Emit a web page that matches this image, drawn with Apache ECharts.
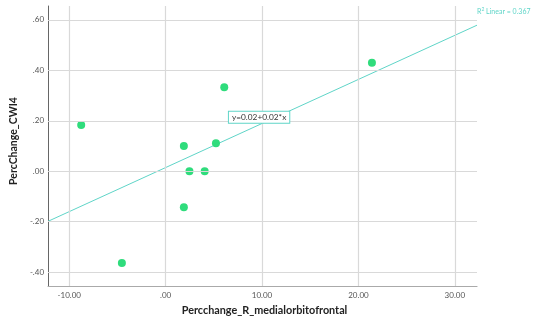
<!DOCTYPE html>
<html>
<head>
<meta charset="utf-8">
<script src="https://cdn.jsdelivr.net/npm/echarts@6/dist/echarts.min.js"></script>
<style>
  html, body { margin: 0; padding: 0; background: #fff; }
  #chart { width: 538px; height: 321px; }
</style>
</head>
<body>
<div id="chart"></div>
<script>
// Observations: percent change in R medial orbitofrontal vs percent change in CWI4
const percchangeR = [-8.76, 1.89, 5.22, 6.08, 21.4, 2.47, 4.05, 1.89, -4.54];
const percChangeCWI4 = [0.183, 0.100, 0.111, 0.333, 0.430, 0.000, 0.000, -0.143, -0.364];

// Axis ranges and tick positions
const xRange = [-12.2, 32.3];
const yRange = [-0.455, 0.655];
const xTicks = [-10, 0, 10, 20, 30];
const yTicks = [-0.4, -0.2, 0, 0.2, 0.4, 0.6];

// Annotation texts
const equationText = 'y=0.02+0.02*x';
const r2Text = '0.367';

// Ordinary least-squares fit of CWI4 on the orbitofrontal change
function linearFit(xs, ys) {
  const n = xs.length;
  const mx = xs.reduce((a, b) => a + b, 0) / n;
  const my = ys.reduce((a, b) => a + b, 0) / n;
  let sxy = 0, sxx = 0;
  for (let i = 0; i < n; i++) {
    sxy += (xs[i] - mx) * (ys[i] - my);
    sxx += (xs[i] - mx) * (xs[i] - mx);
  }
  const slope = sxy / sxx;
  return { slope, intercept: my - slope * mx };
}
const fit = linearFit(percchangeR, percChangeCWI4);
const fitAt = x => fit.intercept + fit.slope * x;

const points = percchangeR.map((x, i) => [x, percChangeCWI4[i]]);
const fitLine = [[xRange[0], fitAt(xRange[0])], [xRange[1], fitAt(xRange[1])]];
const equationAnchorX = 13.1;

// SPSS-style tick labels: ".20", "-.40", "10.00"
function spssFmt(v) {
  let s = Number(v).toFixed(2);
  s = s.replace(/^(-?)0\./, '$1.');
  return s;
}

const lineColor = '#5fd5c8';
const pointColor = '#2fdc7c';
const gridColor = '#d9d9d9';
const font = 'Lato, "Noto Sans", sans-serif';

// Grid lines drawn at the tick values
const gridLines = [
  ...xTicks.map(v => ({ xAxis: v })),
  ...yTicks.map(v => ({ yAxis: v }))
];

const chart = echarts.init(document.getElementById('chart'), null, { renderer: 'canvas' });
chart.setOption({
  animation: false,
  backgroundColor: '#ffffff',
  grid: { left: 45, right: 61, top: 6, bottom: 35, containLabel: false },
  xAxis: {
    type: 'value',
    min: xRange[0], max: xRange[1],
    name: 'Percchange_R_medialorbitofrontal',
    nameLocation: 'middle',
    nameGap: 19,
    nameTextStyle: { fontFamily: font, fontWeight: 'bold', fontSize: 10.8, color: '#222', padding: [0, 0, 0, 4] },
    axisLine: { show: true, onZero: false, lineStyle: { color: '#aaa', width: 1.2 } },
    axisTick: { show: false, customValues: xTicks },
    axisLabel: {
      customValues: xTicks,
      formatter: spssFmt,
      fontFamily: font, fontSize: 8, color: '#555', margin: 5
    },
    splitLine: { show: false }
  },
  yAxis: {
    type: 'value',
    min: yRange[0], max: yRange[1],
    name: 'PercChange_CWI4',
    nameLocation: 'middle',
    nameGap: 27,
    nameRotate: 90,
    nameTextStyle: { fontFamily: font, fontWeight: 'bold', fontSize: 10.5, color: '#222', padding: [0, 0, 0, 10] },
    axisLine: { show: true, onZero: false, lineStyle: { color: '#666', width: 1 } },
    axisTick: { show: false, customValues: yTicks },
    axisLabel: {
      customValues: yTicks,
      formatter: spssFmt,
      fontFamily: font, fontSize: 8, color: '#555', margin: 4
    },
    splitLine: { show: false }
  },
  series: [
    {
      name: 'Grid',
      type: 'line',
      data: [],
      silent: true,
      z: 1,
      markLine: {
        silent: true,
        symbol: 'none',
        label: { show: false },
        lineStyle: { color: gridColor, width: 1.2, type: 'solid' },
        data: gridLines
      }
    },
    {
      name: 'Fit',
      type: 'line',
      data: fitLine,
      symbol: 'none',
      lineStyle: { color: lineColor, width: 1 },
      z: 2,
      markPoint: {
        symbol: 'circle',
        symbolSize: 0,
        data: [{ coord: [equationAnchorX, fitAt(equationAnchorX)], value: equationText }],
        label: {
          show: true,
          formatter: equationText,
          position: [-63, 2],
          fontFamily: font, fontSize: 8.3, color: '#333',
          backgroundColor: '#fff',
          borderColor: lineColor, borderWidth: 1,
          padding: [2, 3, 1, 3]
        }
      }
    },
    {
      name: 'Observed',
      type: 'scatter',
      data: points,
      symbolSize: 8,
      itemStyle: { color: pointColor, opacity: 1 },
      z: 3
    }
  ],
  graphic: [
    {
      type: 'text',
      left: 477, top: 7,
      style: {
        text: '{r|R}{s|2}{r| Linear = ' + r2Text + '}',
        rich: {
          r: { fontFamily: font, fontSize: 7, fill: lineColor },
          s: { fontFamily: font, fontSize: 5, fill: lineColor, verticalAlign: 'top', padding: [0, 0, 4, 0] }
        }
      }
    }
  ]
});
</script>
</body>
</html>
